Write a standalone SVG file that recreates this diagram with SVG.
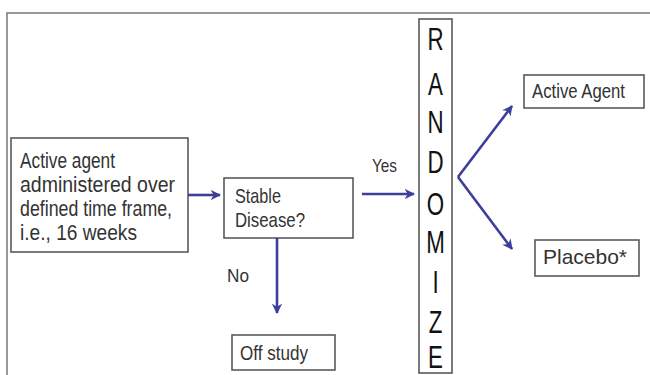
<svg xmlns="http://www.w3.org/2000/svg" width="650" height="375" viewBox="0 0 650 375">
<defs>
<style>
.box{fill:#fff;stroke:#5a5a5a;stroke-width:1.6}
.t{font-family:"Liberation Sans",Arial,sans-serif;fill:#333;}
.r{font-family:"Liberation Sans",Arial,sans-serif;fill:#111;font-size:31px;text-anchor:middle}
.c{stroke:#3d3d9c;stroke-width:2.6;fill:none;marker-end:url(#ah)}
.frame{stroke:#777;stroke-width:1.5;fill:none}
</style>
<marker id="ah" viewBox="0 0 10 10" refX="9" refY="5" markerWidth="4" markerHeight="4" orient="auto" markerUnits="strokeWidth">
<path d="M0,0 L10,5 L0,10 L3,5 Z" fill="#3d3d9c"/>
</marker>
</defs>
<rect width="650" height="375" fill="#fff"/>
<path class="frame" d="M7,376 L7,13 L651,13"/>

<g id="start">
<rect class="box" x="11" y="138" width="177" height="114"/>
<text class="t" font-size="22" x="20" y="168" textLength="95" lengthAdjust="spacingAndGlyphs">Active agent</text>
<text class="t" font-size="22" x="20" y="192" textLength="155" lengthAdjust="spacingAndGlyphs">administered over</text>
<text class="t" font-size="22" x="20" y="216" textLength="152" lengthAdjust="spacingAndGlyphs">defined time frame,</text>
<text class="t" font-size="22" x="20" y="240" textLength="117" lengthAdjust="spacingAndGlyphs">i.e., 16 weeks</text>
</g>

<g id="stable">
<rect class="box" x="224" y="178" width="129" height="60"/>
<text class="t" font-size="21" x="235" y="203" textLength="46" lengthAdjust="spacingAndGlyphs">Stable</text>
<text class="t" font-size="21" x="235" y="227" textLength="70" lengthAdjust="spacingAndGlyphs">Disease?</text>
</g>

<g id="randomize">
<rect class="box" x="419" y="19" width="33" height="354"/>
<g transform="translate(435.5,0) scale(0.72,1)">
<text class="r" x="0" y="50">R</text>
<text class="r" x="0" y="95">A</text>
<text class="r" x="0" y="133">N</text>
<text class="r" x="0" y="173">D</text>
<text class="r" x="0" y="215">O</text>
<text class="r" x="0" y="253">M</text>
<text class="r" x="0" y="293">I</text>
<text class="r" x="0" y="333">Z</text>
<text class="r" x="0" y="368">E</text>
</g>
</g>

<g id="active">
<rect class="box" x="524" y="75" width="120" height="33"/>
<text class="t" font-size="21" x="532" y="98" textLength="93" lengthAdjust="spacingAndGlyphs">Active Agent</text>
</g>

<g id="placebo">
<rect class="box" x="535" y="240" width="104" height="36"/>
<text class="t" font-size="21" x="543" y="264" textLength="84" lengthAdjust="spacingAndGlyphs">Placebo*</text>
</g>

<g id="offstudy">
<rect class="box" x="232" y="335" width="103" height="35"/>
<text class="t" font-size="20" x="240" y="360" textLength="68" lengthAdjust="spacingAndGlyphs">Off study</text>
</g>

<g id="connectors">
<line class="c" x1="188" y1="195" x2="220" y2="195"/>
<line class="c" x1="362" y1="194" x2="414" y2="194"/>
<line class="c" x1="277" y1="238" x2="277" y2="313"/>
<line class="c" x1="458" y1="177" x2="512" y2="106"/>
<line class="c" x1="458" y1="177" x2="512" y2="249"/>
<text class="t" font-size="19" x="372" y="172" textLength="25" lengthAdjust="spacingAndGlyphs">Yes</text>
<text class="t" font-size="19" x="227" y="282" textLength="22" lengthAdjust="spacingAndGlyphs">No</text>
</g>
</svg>
